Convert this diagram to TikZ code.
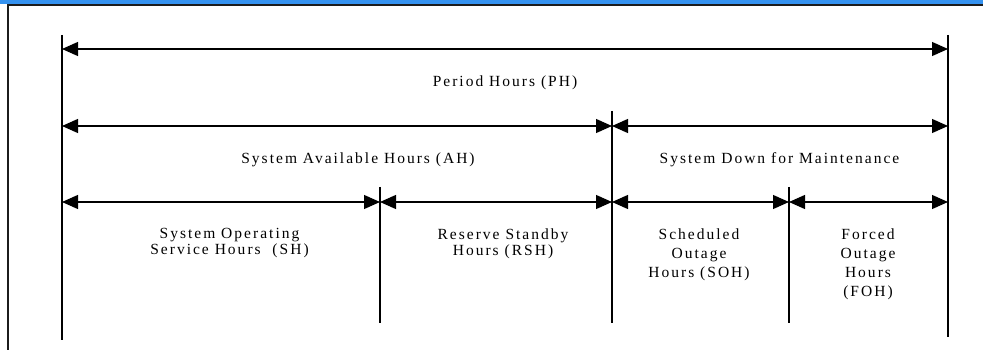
\documentclass[tikz,border=0pt]{standalone}
\usepackage{fontspec}
\setmainfont{Liberation Serif}[LetterSpace=13]
\usetikzlibrary{arrows.meta}
\definecolor{barblue}{RGB}{52,146,240}
\definecolor{framegray}{RGB}{28,28,28}
\tikzset{span/.style={{Triangle[length=16pt,width=14pt]}-{Triangle[length=16pt,width=14pt]},line width=1.2pt},
  tick/.style={line width=1.4pt},
  lbl/.style={font=\fontsize{15.5}{16}\selectfont,align=center,inner sep=0pt},
  tall/.style={font=\fontsize{15.5}{19}\selectfont}}

\begin{document}
\begin{tikzpicture}[x=1pt,y=-1pt]
  \useasboundingbox (0,0) rectangle (983,350);
  \fill[barblue] (0,0) rectangle (983,4);
  \draw[framegray,line width=2pt] (8,350) -- (8,5) -- (983,5);

  % vertical marks
  \coordinate (lt) at (62,35);   \coordinate (lb) at (62,340);
  \coordinate (rt) at (948,35);  \coordinate (rb) at (948,337);
  \coordinate (mt) at (612,111); \coordinate (mb) at (612,323);
  \coordinate (st) at (380,187); \coordinate (sb) at (380,323);
  \coordinate (ft) at (789,187); \coordinate (fb) at (789,323);
  \draw[tick] (lt) -- (lb);
  \draw[tick] (rt) -- (rb);
  \draw[tick] (mt) -- (mb);
  \draw[tick] (st) -- (sb);
  \draw[tick] (ft) -- (fb);

  % arrow ends
  \coordinate (ph0) at (62,49);  \coordinate (ph1) at (948,49);
  \coordinate (ah0) at (62,126); \coordinate (ah1) at (612,126);
  \coordinate (dm1) at (948,126);
  \coordinate (sh0) at (62,202); \coordinate (sh1) at (380,202);
  \coordinate (so0) at (612,202); \coordinate (so1) at (789,202);
  \coordinate (fo1) at (948,202);

  \draw[span] (ph0) -- (ph1);
  \draw[span] (ah0) -- (ah1);
  \draw[span] (ah1) -- (dm1);
  \draw[span] (sh0) -- (sh1);
  \draw[span] (sh1) -- (ah1 |- sh1);
  \draw[span] (so0) -- (so1);
  \draw[span] (so1) -- (fo1);

  \node[lbl,anchor=base] (ph) at (505,87) {Period Hours (PH)};
  \node[lbl,anchor=base] (ah) at (358,163.5) {System Available Hours (AH)};
  \node[lbl,anchor=base] (dm) at (779.5,163.5) {System Down for Maintenance};

  \node[lbl,anchor=north] (sh) at (229.5,228.5) {System Operating\\Service Hours\ \ (SH)};
  \node[lbl,anchor=north] (rsh) at (503,228.5) {Reserve Standby\\Hours (RSH)};
  \node[lbl,tall,anchor=north] (soh) at (699,228.5) {Scheduled\\Outage\\Hours (SOH)};
  \node[lbl,tall,anchor=north] (foh) at (868,228.5) {Forced\\Outage\\Hours\\(FOH)};
\end{tikzpicture}
\end{document}
